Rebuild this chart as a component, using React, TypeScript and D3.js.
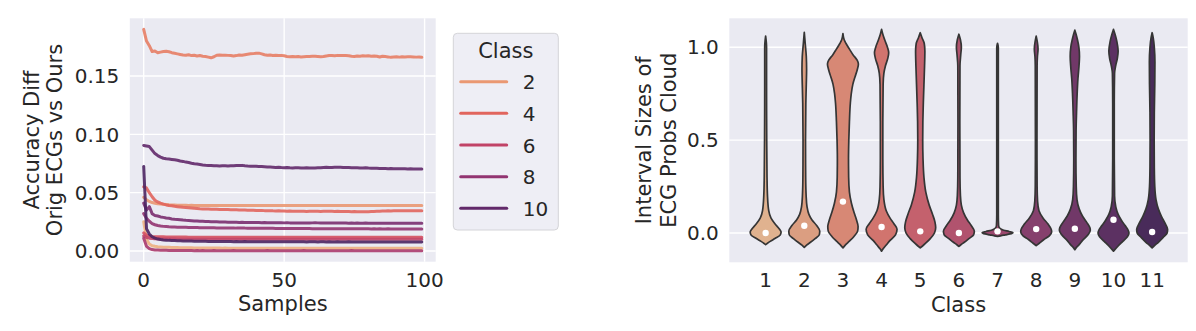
import React from "react";
import * as d3 from "d3";

const W = 1196;
const H = 331;
const FONT = "DejaVu Sans, sans-serif";
const INK = "#262626";
const PANEL = "#eaeaf2";

// ---- left panel: accuracy difference per class over samples ----
const diff1 = [0.0250,0.0100,0.0060,0.0045,0.0040,0.0037,0.0035,0.0033,0.0032,0.0031,
  0.0030,0.0029,0.0029,0.0028,0.0028,0.0027,0.0027,0.0027,0.0026,0.0026,
  0.0026,0.0026,0.0025,0.0025,0.0025,0.0025,0.0025,0.0025,0.0024,0.0025,
  0.0024,0.0024,0.0024,0.0024,0.0024,0.0024,0.0024,0.0024,0.0024,0.0024,
  0.0024,0.0024,0.0023,0.0024,0.0024,0.0023,0.0024,0.0023,0.0024,0.0023,
  0.0023,0.0024,0.0023,0.0023,0.0024,0.0023,0.0023,0.0023,0.0024,0.0023,
  0.0023,0.0023,0.0023,0.0024,0.0023,0.0023,0.0023,0.0023,0.0023,0.0023,
  0.0024,0.0023,0.0023,0.0023,0.0023,0.0023,0.0023,0.0023,0.0023,0.0023,
  0.0023,0.0023,0.0024,0.0023,0.0023,0.0023,0.0023,0.0023,0.0023,0.0023,
  0.0023,0.0023,0.0023,0.0023,0.0023,0.0023,0.0023,0.0023,0.0023,0.0023];
const diff2 = [0.0460,0.0440,0.0425,0.0415,0.0410,0.0405,0.0402,0.0400,0.0398,0.0396,
  0.0395,0.0394,0.0393,0.0393,0.0392,0.0392,0.0391,0.0392,0.0391,0.0391,
  0.0390,0.0391,0.0390,0.0391,0.0390,0.0390,0.0391,0.0390,0.0389,0.0390,
  0.0390,0.0391,0.0390,0.0390,0.0389,0.0390,0.0390,0.0391,0.0390,0.0390,
  0.0391,0.0390,0.0390,0.0389,0.0390,0.0390,0.0391,0.0390,0.0390,0.0390,
  0.0389,0.0390,0.0390,0.0391,0.0390,0.0390,0.0389,0.0390,0.0390,0.0390,
  0.0391,0.0390,0.0390,0.0390,0.0389,0.0390,0.0390,0.0390,0.0391,0.0390,
  0.0390,0.0389,0.0390,0.0390,0.0390,0.0390,0.0391,0.0390,0.0390,0.0389,
  0.0390,0.0390,0.0390,0.0391,0.0390,0.0390,0.0390,0.0389,0.0390,0.0390,
  0.0390,0.0390,0.0389,0.0390,0.0390,0.0390,0.0390,0.0389,0.0390,0.0390];
const diff3 = [0.1900,0.1800,0.1760,0.1710,0.1715,0.1700,0.1705,0.1710,0.1712,0.1708,
  0.1700,0.1695,0.1690,0.1685,0.1680,0.1678,0.1682,0.1675,0.1678,0.1672,
  0.1676,0.1670,0.1668,0.1662,0.1656,0.1665,0.1678,0.1680,0.1678,0.1679,
  0.1677,0.1676,0.1672,0.1675,0.1680,0.1678,0.1683,0.1687,0.1690,0.1692,
  0.1695,0.1696,0.1690,0.1682,0.1678,0.1680,0.1676,0.1678,0.1675,0.1677,
  0.1674,0.1668,0.1665,0.1668,0.1665,0.1667,0.1664,0.1666,0.1668,0.1667,
  0.1669,0.1670,0.1668,0.1665,0.1667,0.1672,0.1675,0.1676,0.1674,0.1677,
  0.1676,0.1675,0.1676,0.1674,0.1670,0.1668,0.1672,0.1670,0.1673,0.1671,
  0.1674,0.1670,0.1672,0.1669,0.1663,0.1670,0.1667,0.1664,0.1660,0.1663,
  0.1665,0.1662,0.1665,0.1664,0.1666,0.1665,0.1664,0.1662,0.1663,0.1660];
const diff4 = [0.0550,0.0540,0.0500,0.0465,0.0435,0.0420,0.0410,0.0402,0.0395,0.0390,
  0.0388,0.0383,0.0380,0.0377,0.0374,0.0372,0.0370,0.0368,0.0366,0.0364,
  0.0362,0.0361,0.0360,0.0360,0.0358,0.0357,0.0358,0.0356,0.0355,0.0356,
  0.0355,0.0354,0.0353,0.0354,0.0352,0.0351,0.0352,0.0350,0.0349,0.0350,
  0.0348,0.0347,0.0348,0.0346,0.0345,0.0346,0.0344,0.0343,0.0344,0.0342,
  0.0343,0.0341,0.0342,0.0340,0.0341,0.0340,0.0341,0.0340,0.0339,0.0340,
  0.0340,0.0341,0.0340,0.0339,0.0340,0.0340,0.0341,0.0340,0.0339,0.0340,
  0.0339,0.0338,0.0339,0.0338,0.0337,0.0338,0.0337,0.0336,0.0337,0.0336,
  0.0337,0.0338,0.0339,0.0340,0.0341,0.0342,0.0343,0.0344,0.0343,0.0344,
  0.0345,0.0344,0.0345,0.0344,0.0345,0.0346,0.0345,0.0344,0.0345,0.0345];
const diff5 = [0.0155,0.0135,0.0128,0.0125,0.0123,0.0122,0.0121,0.0121,0.0120,0.0120,
  0.0120,0.0119,0.0119,0.0119,0.0119,0.0119,0.0118,0.0118,0.0118,0.0118,
  0.0118,0.0118,0.0118,0.0117,0.0118,0.0118,0.0117,0.0118,0.0117,0.0118,
  0.0117,0.0117,0.0118,0.0117,0.0117,0.0118,0.0117,0.0117,0.0117,0.0118,
  0.0117,0.0117,0.0117,0.0117,0.0118,0.0117,0.0117,0.0117,0.0117,0.0117,
  0.0118,0.0117,0.0117,0.0117,0.0117,0.0117,0.0117,0.0118,0.0117,0.0117,
  0.0117,0.0117,0.0117,0.0117,0.0118,0.0117,0.0117,0.0117,0.0117,0.0117,
  0.0117,0.0117,0.0118,0.0117,0.0117,0.0117,0.0117,0.0117,0.0117,0.0117,
  0.0117,0.0118,0.0117,0.0117,0.0117,0.0117,0.0117,0.0117,0.0117,0.0117,
  0.0117,0.0117,0.0117,0.0118,0.0117,0.0117,0.0117,0.0117,0.0117,0.0117];
const diff6 = [0.0130,0.0115,0.0110,0.0107,0.0105,0.0104,0.0103,0.0103,0.0102,0.0102,
  0.0102,0.0102,0.0101,0.0101,0.0101,0.0101,0.0101,0.0101,0.0100,0.0101,
  0.0100,0.0101,0.0100,0.0100,0.0101,0.0100,0.0100,0.0100,0.0101,0.0100,
  0.0100,0.0100,0.0100,0.0101,0.0100,0.0100,0.0100,0.0100,0.0100,0.0101,
  0.0100,0.0100,0.0100,0.0100,0.0100,0.0100,0.0101,0.0100,0.0100,0.0100,
  0.0100,0.0100,0.0100,0.0100,0.0101,0.0100,0.0100,0.0100,0.0100,0.0100,
  0.0100,0.0101,0.0100,0.0100,0.0100,0.0100,0.0100,0.0100,0.0100,0.0100,
  0.0101,0.0100,0.0100,0.0100,0.0100,0.0100,0.0100,0.0100,0.0100,0.0101,
  0.0100,0.0100,0.0100,0.0100,0.0100,0.0100,0.0100,0.0101,0.0100,0.0100,
  0.0100,0.0100,0.0100,0.0100,0.0100,0.0101,0.0100,0.0100,0.0100,0.0100];
const diff7 = [0.0110,0.0040,0.0020,0.0012,0.0009,0.0008,0.0007,0.0006,0.0006,0.0005,
  0.0005,0.0005,0.0004,0.0004,0.0004,0.0004,0.0004,0.0004,0.0003,0.0004,
  0.0003,0.0004,0.0003,0.0003,0.0003,0.0004,0.0003,0.0003,0.0003,0.0003,
  0.0003,0.0003,0.0004,0.0003,0.0003,0.0003,0.0003,0.0003,0.0003,0.0003,
  0.0003,0.0003,0.0003,0.0003,0.0004,0.0003,0.0003,0.0003,0.0003,0.0003,
  0.0003,0.0003,0.0003,0.0003,0.0003,0.0003,0.0003,0.0004,0.0003,0.0003,
  0.0003,0.0003,0.0003,0.0003,0.0003,0.0003,0.0003,0.0003,0.0003,0.0003,
  0.0003,0.0003,0.0003,0.0003,0.0004,0.0003,0.0003,0.0003,0.0003,0.0003,
  0.0003,0.0003,0.0003,0.0003,0.0003,0.0003,0.0003,0.0003,0.0003,0.0003,
  0.0003,0.0003,0.0003,0.0003,0.0003,0.0003,0.0003,0.0003,0.0003,0.0003];
const diff8 = [0.0320,0.0280,0.0255,0.0235,0.0225,0.0218,0.0214,0.0211,0.0209,0.0207,
  0.0206,0.0205,0.0204,0.0204,0.0203,0.0203,0.0202,0.0202,0.0201,0.0201,
  0.0200,0.0200,0.0200,0.0199,0.0199,0.0199,0.0198,0.0198,0.0198,0.0197,
  0.0197,0.0197,0.0197,0.0196,0.0196,0.0196,0.0196,0.0195,0.0195,0.0195,
  0.0195,0.0195,0.0194,0.0194,0.0194,0.0194,0.0194,0.0193,0.0193,0.0193,
  0.0193,0.0193,0.0193,0.0192,0.0192,0.0192,0.0192,0.0192,0.0192,0.0192,
  0.0191,0.0191,0.0191,0.0191,0.0191,0.0191,0.0191,0.0191,0.0190,0.0191,
  0.0190,0.0190,0.0190,0.0190,0.0190,0.0190,0.0190,0.0190,0.0190,0.0190,
  0.0190,0.0189,0.0190,0.0189,0.0190,0.0189,0.0189,0.0190,0.0189,0.0189,
  0.0189,0.0189,0.0189,0.0189,0.0189,0.0189,0.0189,0.0189,0.0189,0.0189];
const diff9 = [0.0410,0.0350,0.0380,0.0320,0.0305,0.0300,0.0292,0.0288,0.0283,0.0280,
  0.0275,0.0272,0.0270,0.0268,0.0265,0.0263,0.0262,0.0260,0.0258,0.0257,
  0.0255,0.0254,0.0253,0.0252,0.0251,0.0250,0.0250,0.0249,0.0248,0.0248,
  0.0247,0.0247,0.0246,0.0246,0.0245,0.0246,0.0245,0.0245,0.0244,0.0245,
  0.0244,0.0244,0.0243,0.0244,0.0243,0.0243,0.0242,0.0243,0.0242,0.0242,
  0.0241,0.0242,0.0241,0.0241,0.0240,0.0241,0.0240,0.0241,0.0240,0.0240,
  0.0241,0.0242,0.0241,0.0240,0.0241,0.0240,0.0240,0.0239,0.0240,0.0239,
  0.0240,0.0239,0.0239,0.0238,0.0239,0.0238,0.0239,0.0238,0.0238,0.0239,
  0.0238,0.0238,0.0237,0.0238,0.0237,0.0238,0.0237,0.0238,0.0238,0.0237,
  0.0238,0.0238,0.0237,0.0238,0.0238,0.0237,0.0238,0.0238,0.0238,0.0238];
const diff10 = [0.0905,0.0900,0.0895,0.0865,0.0835,0.0818,0.0805,0.0795,0.0790,0.0788,
  0.0785,0.0782,0.0778,0.0772,0.0768,0.0762,0.0758,0.0752,0.0748,0.0745,
  0.0742,0.0738,0.0735,0.0733,0.0732,0.0730,0.0731,0.0729,0.0731,0.0730,
  0.0728,0.0730,0.0731,0.0733,0.0732,0.0734,0.0730,0.0728,0.0727,0.0726,
  0.0727,0.0725,0.0724,0.0722,0.0720,0.0719,0.0718,0.0716,0.0717,0.0715,
  0.0714,0.0716,0.0713,0.0712,0.0714,0.0713,0.0712,0.0711,0.0713,0.0712,
  0.0711,0.0712,0.0713,0.0714,0.0716,0.0717,0.0715,0.0716,0.0718,0.0717,
  0.0718,0.0716,0.0715,0.0716,0.0714,0.0713,0.0714,0.0712,0.0711,0.0713,
  0.0711,0.0710,0.0709,0.0710,0.0708,0.0707,0.0708,0.0706,0.0707,0.0705,
  0.0706,0.0705,0.0704,0.0705,0.0703,0.0704,0.0703,0.0702,0.0703,0.0702];
const diff11 = [0.0725,0.0190,0.0145,0.0122,0.0110,0.0102,0.0098,0.0095,0.0093,0.0091,
  0.0090,0.0089,0.0088,0.0087,0.0086,0.0086,0.0085,0.0085,0.0084,0.0084,
  0.0083,0.0083,0.0083,0.0082,0.0082,0.0082,0.0082,0.0081,0.0081,0.0081,
  0.0081,0.0081,0.0080,0.0081,0.0080,0.0080,0.0081,0.0080,0.0080,0.0080,
  0.0080,0.0080,0.0079,0.0080,0.0080,0.0079,0.0080,0.0079,0.0079,0.0080,
  0.0079,0.0079,0.0079,0.0080,0.0079,0.0079,0.0079,0.0079,0.0078,0.0079,
  0.0079,0.0079,0.0078,0.0079,0.0079,0.0078,0.0079,0.0078,0.0078,0.0079,
  0.0078,0.0078,0.0078,0.0079,0.0078,0.0078,0.0078,0.0078,0.0078,0.0078,
  0.0078,0.0078,0.0077,0.0078,0.0078,0.0078,0.0077,0.0078,0.0078,0.0077,
  0.0078,0.0077,0.0078,0.0077,0.0077,0.0078,0.0077,0.0077,0.0078,0.0077];

const classes = [1, 2, 3, 4, 5, 6, 7, 8, 9, 10, 11];
const diffSeries = [diff1, diff2, diff3, diff4, diff5, diff6, diff7, diff8, diff9, diff10, diff11];
const legendClasses = [2, 4, 6, 8, 10];
const leftXTicks = [0, 50, 100];
const leftYTicks = [0, 0.05, 0.1, 0.15];

// ---- right panel: violin outlines [value, relative half width] ----
const violin1 = [[1.06,0],[1.0,0.06],[0.8,0.06],[0.5,0.07],[0.3,0.09],[0.2,0.12],[0.12,0.2],[0.08,0.35],[0.05,0.6],[0.02,0.9],[0.005,1.0],[-0.01,0.95],[-0.03,0.6],[-0.045,0.3],[-0.055,0.12],[-0.063,0]];
const violin2 = [[1.08,0],[1.02,0.06],[0.95,0.13],[0.88,0.15],[0.8,0.13],[0.7,0.1],[0.5,0.08],[0.3,0.09],[0.2,0.12],[0.14,0.18],[0.1,0.3],[0.07,0.5],[0.04,0.8],[0.01,1.0],[-0.01,0.97],[-0.03,0.7],[-0.05,0.4],[-0.065,0.15],[-0.077,0]];
const violin3 = [[1.073,0],[1.04,0.08],[1.02,0.2],[0.99,0.42],[0.96,0.65],[0.93,0.92],[0.91,1.0],[0.88,0.93],[0.84,0.78],[0.8,0.64],[0.75,0.54],[0.7,0.48],[0.6,0.42],[0.5,0.38],[0.4,0.36],[0.3,0.37],[0.22,0.42],[0.16,0.55],[0.11,0.72],[0.07,0.88],[0.035,0.98],[0.01,0.95],[-0.02,0.7],[-0.045,0.4],[-0.065,0.15],[-0.08,0]];
const violin4 = [[1.096,0],[1.07,0.08],[1.04,0.2],[1.0,0.38],[0.97,0.46],[0.94,0.4],[0.9,0.25],[0.86,0.15],[0.8,0.1],[0.6,0.08],[0.4,0.08],[0.25,0.1],[0.18,0.15],[0.12,0.3],[0.08,0.55],[0.05,0.8],[0.02,1.0],[-0.01,0.9],[-0.04,0.55],[-0.065,0.3],[-0.085,0.1],[-0.098,0]];
const violin5 = [[1.078,0],[1.05,0.12],[1.02,0.26],[0.98,0.3],[0.9,0.28],[0.8,0.24],[0.7,0.2],[0.6,0.17],[0.5,0.16],[0.4,0.18],[0.3,0.24],[0.22,0.36],[0.15,0.58],[0.1,0.8],[0.06,0.95],[0.03,1.0],[0.0,0.92],[-0.03,0.65],[-0.055,0.35],[-0.07,0.15],[-0.08,0]];
const violin6 = [[1.07,0],[1.04,0.1],[1.0,0.16],[0.96,0.12],[0.9,0.07],[0.6,0.06],[0.3,0.07],[0.2,0.1],[0.15,0.16],[0.11,0.3],[0.07,0.55],[0.04,0.8],[0.01,1.0],[-0.01,0.95],[-0.03,0.65],[-0.05,0.35],[-0.063,0.13],[-0.072,0]];
const violin7 = [[1.021,0],[1.0,0.05],[0.5,0.05],[0.1,0.05],[0.04,0.07],[0.025,0.15],[0.015,0.4],[0.008,0.75],[0.002,1.0],[-0.005,0.8],[-0.01,0.5],[-0.015,0.2],[-0.018,0]];
const violin8 = [[1.06,0],[1.03,0.07],[0.99,0.12],[0.95,0.08],[0.9,0.06],[0.5,0.05],[0.25,0.06],[0.17,0.09],[0.12,0.18],[0.08,0.45],[0.05,0.75],[0.02,0.97],[0.005,1.0],[-0.015,0.85],[-0.035,0.5],[-0.055,0.2],[-0.068,0]];
const violin9 = [[1.092,0],[1.07,0.08],[1.04,0.17],[1.0,0.26],[0.95,0.3],[0.9,0.27],[0.83,0.2],[0.75,0.15],[0.65,0.11],[0.55,0.08],[0.4,0.07],[0.25,0.09],[0.18,0.14],[0.13,0.28],[0.09,0.5],[0.06,0.75],[0.03,0.97],[0.015,1.0],[-0.01,0.85],[-0.04,0.5],[-0.065,0.25],[-0.08,0.08],[-0.09,0]];
const violin10 = [[1.096,0],[1.07,0.1],[1.03,0.22],[0.98,0.3],[0.94,0.25],[0.9,0.14],[0.86,0.07],[0.7,0.05],[0.4,0.05],[0.2,0.07],[0.14,0.15],[0.1,0.3],[0.07,0.5],[0.04,0.75],[0.015,0.95],[0.0,1.0],[-0.02,0.9],[-0.045,0.6],[-0.07,0.3],[-0.088,0.1],[-0.098,0]];
const violin11 = [[1.078,0],[1.05,0.07],[1.0,0.14],[0.92,0.18],[0.8,0.17],[0.65,0.14],[0.5,0.13],[0.35,0.14],[0.25,0.17],[0.18,0.25],[0.13,0.4],[0.09,0.6],[0.05,0.85],[0.02,1.0],[0.0,0.97],[-0.025,0.7],[-0.05,0.4],[-0.068,0.15],[-0.08,0]];
const violins = [violin1, violin2, violin3, violin4, violin5, violin6, violin7, violin8, violin9, violin10, violin11];
const medians = [0.0, 0.039, 0.169, 0.032, 0.009, 0.0, 0.009, 0.021, 0.023, 0.071, 0.005];
const rightYTicks = [0, 0.5, 1];

// seaborn "flare" colormap key colours
const flareStops = ["#edb081", "#e98d6b", "#e3685c", "#d14a61", "#b13c6c", "#8f3371", "#6c2b6d", "#4b2362"];
const flare = d3.scaleLinear<string>()
  .domain(flareStops.map((_, i) => i / (flareStops.length - 1)))
  .range(flareStops)
  .interpolate(d3.interpolateRgb);
const hueNorm = d3.scaleLinear().domain([1, 11]).range([0, 1]);
const lineColor = (c: number) => flare(hueNorm(c));
const violinColor = (c: number) => {
  const h = d3.hsl(lineColor(c));
  h.s *= 0.75;
  return h.formatHex();
};

const LeftPanel = () => {
  const x = d3.scaleLinear().domain([-4.95, 103.95]).range([129.8, 435.7]);
  const [mn, mx] = d3.extent(diffSeries.flat()) as [number, number];
  const pad = (mx - mn) * 0.05;
  const y = d3.scaleLinear().domain([mn - pad, mx + pad]).range([261.7, 18.3]);
  const line = d3.line<number>().x((_, i) => x(i)).y((d) => y(d));
  const [x0, x1] = x.range();
  const [yb, yt] = y.range();
  return (
    <g>
      <rect x={x0} y={yt} width={x1 - x0} height={yb - yt} fill={PANEL} />
      {leftXTicks.map((t) => (
        <line key={"gx" + t} x1={x(t)} x2={x(t)} y1={yt} y2={yb} stroke="#fff" strokeWidth={1.4} />
      ))}
      {leftYTicks.map((t) => (
        <line key={"gy" + t} x1={x0} x2={x1} y1={y(t)} y2={y(t)} stroke="#fff" strokeWidth={1.4} />
      ))}
      {diffSeries.map((s, i) => (
        <path key={i} d={line(s) || ""} fill="none" stroke={lineColor(classes[i])} strokeWidth={3}
          strokeLinejoin="round" strokeLinecap="round" opacity={0.9} />
      ))}
      {leftXTicks.map((t) => (
        <text key={"tx" + t} x={x(t)} y={286.5} textAnchor="middle" fontSize={20} fill={INK}>{t}</text>
      ))}
      {leftYTicks.map((t) => (
        <text key={"ty" + t} x={x0 - 10.5} y={y(t)} dy="0.36em" textAnchor="end" fontSize={20} fill={INK}>
          {d3.format(".2f")(t)}
        </text>
      ))}
      <text x={(x0 + x1) / 2} y={311} textAnchor="middle" fontSize={21} fill={INK}>Samples</text>
      <text transform="translate(38.5,140) rotate(-90)" textAnchor="middle" fontSize={21} fill={INK}>Accuracy Diff</text>
      <text transform="translate(62,140) rotate(-90)" textAnchor="middle" fontSize={21} fill={INK}>Orig ECGs vs Ours</text>
      {/* legend */}
      <rect x={453.3} y={33.3} width={105} height={196.7} rx={4} fill="#eeeef5" stroke="#d4d4d8" strokeWidth={1} />
      <text x={505.8} y={58.3} textAnchor="middle" fontSize={21} fill={INK}>Class</text>
      {legendClasses.map((c, i) => {
        const ly = 81.7 + i * 31.65;
        return (
          <g key={c}>
            <line x1={460.7} x2={506.7} y1={ly} y2={ly} stroke={lineColor(c)} strokeWidth={3} strokeLinecap="round" />
            <text x={522.7} y={ly + 7.6} fontSize={20} fill={INK}>{c}</text>
          </g>
        );
      })}
    </g>
  );
};

const RightPanel = () => {
  const x = d3.scaleLinear().domain([0.06, 11.92]).range([729.3, 1187.7]);
  const all = violins.flat().map((d) => d[0]);
  const [mn, mx] = d3.extent(all) as [number, number];
  const pad = (mx - mn) * 0.05;
  const y = d3.scaleLinear().domain([mn - pad, mx + pad]).range([262.3, 18.3]);
  const hw = x(0.4) - x(0);
  const [x0, x1] = x.range();
  const [yb, yt] = y.range();
  return (
    <g>
      <rect x={x0} y={yt} width={x1 - x0} height={yb - yt} fill={PANEL} />
      {rightYTicks.map((t) => (
        <line key={"gy" + t} x1={x0} x2={x1} y1={y(t)} y2={y(t)} stroke="#fff" strokeWidth={1.4} />
      ))}
      {violins.map((prof, i) => {
        const cx = x(classes[i]);
        const area = d3.area<number[]>()
          .y((d) => y(d[0]))
          .x0((d) => cx - d[1] * hw)
          .x1((d) => cx + d[1] * hw)
          .curve(d3.curveMonotoneY);
        return (
          <g key={i}>
            <path d={area(prof) || ""} fill={violinColor(classes[i])} stroke="#353535" strokeWidth={1.7}
              strokeLinejoin="round" />
            <circle cx={cx} cy={y(medians[i])} r={3.2} fill="#fff" />
          </g>
        );
      })}
      {classes.map((c) => (
        <text key={"tx" + c} x={x(c)} y={286.5} textAnchor="middle" fontSize={20} fill={INK}>{c}</text>
      ))}
      {rightYTicks.map((t) => (
        <text key={"ty" + t} x={x0 - 10.5} y={y(t)} dy="0.36em" textAnchor="end" fontSize={20} fill={INK}>
          {d3.format(".1f")(t)}
        </text>
      ))}
      <text x={(x0 + x1) / 2} y={312} textAnchor="middle" fontSize={21} fill={INK}>Class</text>
      <text transform="translate(651,140.3) rotate(-90)" textAnchor="middle" fontSize={21} fill={INK}>Interval Sizes of</text>
      <text transform="translate(676,140.3) rotate(-90)" textAnchor="middle" fontSize={21} fill={INK}>ECG Probs Cloud</text>
    </g>
  );
};

export default function App() {
  return (
    <svg width={W} height={H} viewBox={`0 0 ${W} ${H}`}
      style={{ position: "absolute", left: 0, top: 0, background: "#fff" }} fontFamily={FONT}>
      <rect width={W} height={H} fill="#fff" />
      <LeftPanel />
      <RightPanel />
    </svg>
  );
}
